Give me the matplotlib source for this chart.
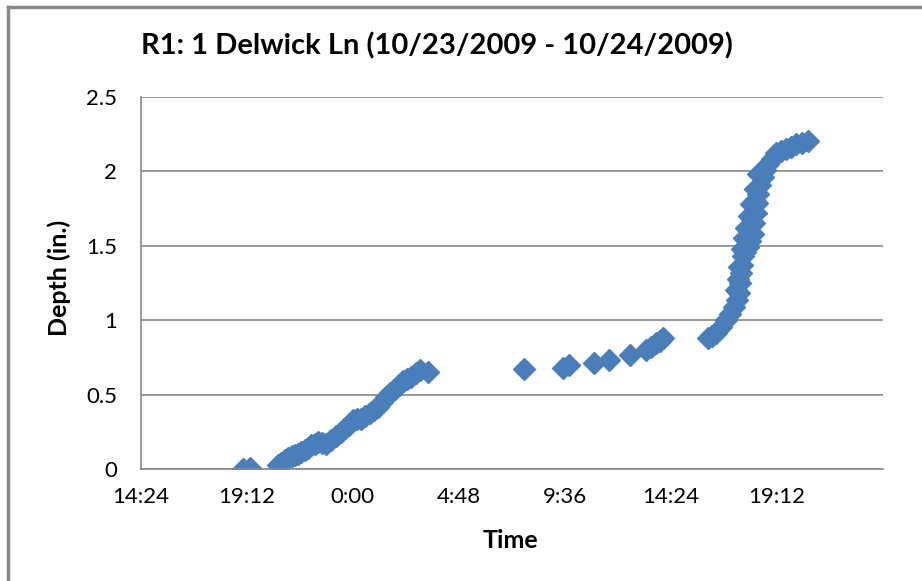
import matplotlib.pyplot as plt
from matplotlib.lines import Line2D

# hours since 10/23/2009 0:00
hours = [19.03, 19.33,
         20.61, 20.76, 20.91, 21.07, 21.22, 21.37, 21.52, 21.67, 21.82, 21.97,
         22.12, 22.27, 22.42, 22.60, 22.80, 23.02, 23.25, 23.44, 23.63, 23.82,
         24.00, 24.19, 24.38, 24.57, 24.76, 24.95, 25.14, 25.33, 25.52, 25.70,
         25.89, 26.08, 26.27, 26.46, 26.65, 26.84, 27.02, 27.40,
         31.73, 33.51, 33.81, 34.94, 35.62, 36.53, 37.28, 37.50, 37.74, 37.90, 38.03,
         40.07, 40.25, 40.45, 40.68, 40.91, 41.10, 41.28, 41.40, 41.51, 41.55,
         41.58, 41.62, 41.66, 41.78, 41.88, 42.00, 42.11, 42.18, 42.26, 42.30,
         42.34, 42.45, 42.56, 42.68, 42.79, 42.98, 43.16, 43.40, 43.62, 43.85,
         44.07, 44.33, 44.60,
         41.36, 41.45, 41.50, 41.62, 41.72, 41.82, 41.95, 42.05, 42.20, 42.36]
depth = [0.0, 0.01,
         0.03, 0.045, 0.06, 0.075, 0.09, 0.095, 0.10, 0.115, 0.13, 0.145,
         0.16, 0.17, 0.185, 0.175, 0.17, 0.195, 0.22, 0.25, 0.275, 0.30,
         0.33, 0.335, 0.34, 0.355, 0.376, 0.40, 0.42, 0.45, 0.487, 0.515,
         0.54, 0.565, 0.59, 0.605, 0.62, 0.645, 0.666, 0.655,
         0.671, 0.678, 0.70, 0.715, 0.733, 0.767, 0.80, 0.82, 0.846, 0.862, 0.879,
         0.879, 0.895, 0.913, 0.955, 1.0, 1.045, 1.09, 1.135, 1.18, 1.25,
         1.315, 1.37, 1.43, 1.46, 1.49, 1.53, 1.58, 1.65, 1.72, 1.785,
         1.85, 1.905, 1.96, 2.005, 2.05, 2.085, 2.12, 2.135, 2.15, 2.165,
         2.18, 2.19, 2.205,
         1.20, 1.28, 1.36, 1.48, 1.55, 1.62, 1.70, 1.78, 1.88, 1.98]

xticks = [14.4, 19.2, 24.0, 28.8, 33.6, 38.4, 43.2]
yticks = [0, 0.5, 1, 1.5, 2, 2.5]
title = "R1: 1 Delwick Ln (10/23/2009 - 10/24/2009)"

plt.rcParams['font.family'] = ['Lato', 'DejaVu Sans']

def hhmm(h):
    m = int(round(h * 60)) % (24 * 60)
    return f"{m // 60}:{m % 60:02d}"

fig = plt.figure(figsize=(9.22, 5.81), dpi=100)
ax = fig.add_axes([0.1529, 0.1923, 0.8045, 0.6413])

ax.plot(hours, depth, ls='none', marker='D', ms=11, color='#4A7EBB', mec='#4A7EBB')

ax.set_xlim(14.4, 48.0)
ax.set_ylim(0, 2.5)
ax.set_xticks(xticks)
ax.set_xticklabels([hhmm(h) for h in xticks])
ax.set_yticks(yticks)
ax.set_yticklabels(['0', '0.5', '1', '1.5', '2', '2.5'])
ax.tick_params(length=0, labelsize=16)
ax.tick_params(axis='x', pad=13)
ax.tick_params(axis='y', pad=17)
ax.grid(axis='y', color='#888888', lw=1.2)
ax.set_axisbelow(True)
for s in ['top', 'right']:
    ax.spines[s].set_visible(False)
for s in ['left', 'bottom']:
    ax.spines[s].set_color('#888888')
    ax.spines[s].set_linewidth(1.2)

fig.text(0.474, 0.921, title, ha='center', va='center', fontsize=21, fontweight='bold')
fig.text(0.064, 0.521, 'Depth (in.)', rotation=90, ha='center', va='center',
         fontsize=18, fontweight='bold')
fig.text(0.554, 0.07, 'Time', ha='center', va='center', fontsize=18, fontweight='bold')

# chart frame (top and left edges)
fig.add_artist(Line2D([0.009, 0.009], [0, 0.988], color='#888888', lw=2.5))
fig.add_artist(Line2D([0.009, 1.0], [0.988, 0.988], color='#888888', lw=2.5))

fig.savefig('out.png', dpi=100)
